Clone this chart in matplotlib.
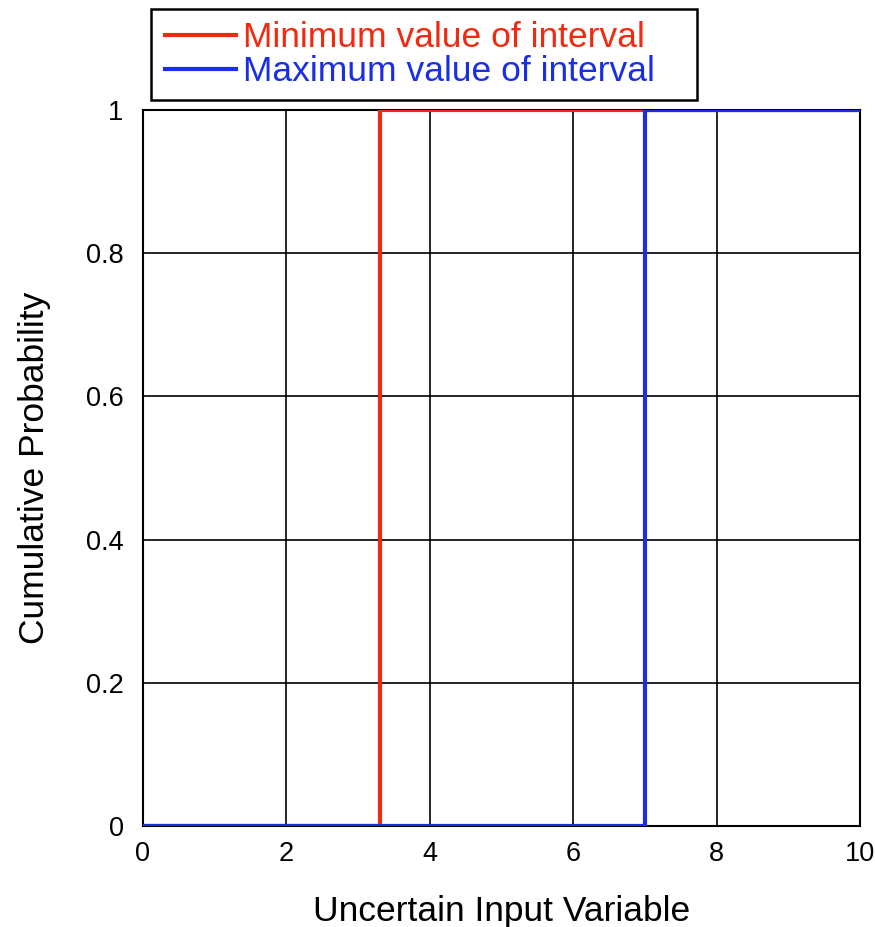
import matplotlib
matplotlib.use('Agg')
import matplotlib.pyplot as plt
from matplotlib.patches import Rectangle

plt.rcParams['font.family'] = ['Liberation Sans', 'DejaVu Sans']

# step positions of the two interval bounds (CDF jumps 0 -> 1)
x_min_step = [0, 3.3, 3.3, 10]
y_min_step = [0, 0, 1, 1]
x_max_step = [0, 7, 7, 10]
y_max_step = [0, 0, 1, 1]

labels = ['Minimum value of interval', 'Maximum value of interval']
colors = ['#f02a10', '#1a2ee6']

fig = plt.figure(figsize=(8.75, 9.27), dpi=100)
ax = fig.add_axes([0.1634, 0.1089, 0.8195, 0.7724])

ax.plot(x_min_step, y_min_step, color=colors[0], lw=3, label=labels[0], zorder=3)
ax.plot(x_max_step, y_max_step, color=colors[1], lw=3, label=labels[1], zorder=4)

ax.set_xlim(0, 10)
ax.set_ylim(0, 1)
ax.set_xticks([0, 2, 4, 6, 8, 10])
ax.set_yticks([0, 0.2, 0.4, 0.6, 0.8, 1])
ax.set_yticklabels(['0', '0.2', '0.4', '0.6', '0.8', '1'])
ax.grid(True, color='black', lw=1.2)
ax.tick_params(length=0, labelsize=19.5)
ax.tick_params(axis='y', pad=14)
ax.tick_params(axis='x', pad=11)
for s in ax.spines.values():
    s.set_linewidth(1.5)

ax.set_xlabel('Uncertain Input Variable', fontsize=25.5, labelpad=20)
ax.set_ylabel('Cumulative Probability', fontsize=25.5, labelpad=25)

# legend box is wider than its contents in the original, so draw it by hand
fig.patches.append(Rectangle((0.1726, 0.8921), 0.624, 0.0982, transform=fig.transFigure,
                             fill=False, edgecolor='black', lw=1.8, figure=fig))
leg = fig.legend(loc='upper left', bbox_to_anchor=(0.1886, 0.9773), fontsize=25.5,
                 frameon=False, handlelength=2.0, handletextpad=0.2,
                 borderpad=0, labelspacing=0.03, borderaxespad=0)
for t, c in zip(leg.get_texts(), colors):
    t.set_color(c)

fig.savefig('out.png', dpi=100)
